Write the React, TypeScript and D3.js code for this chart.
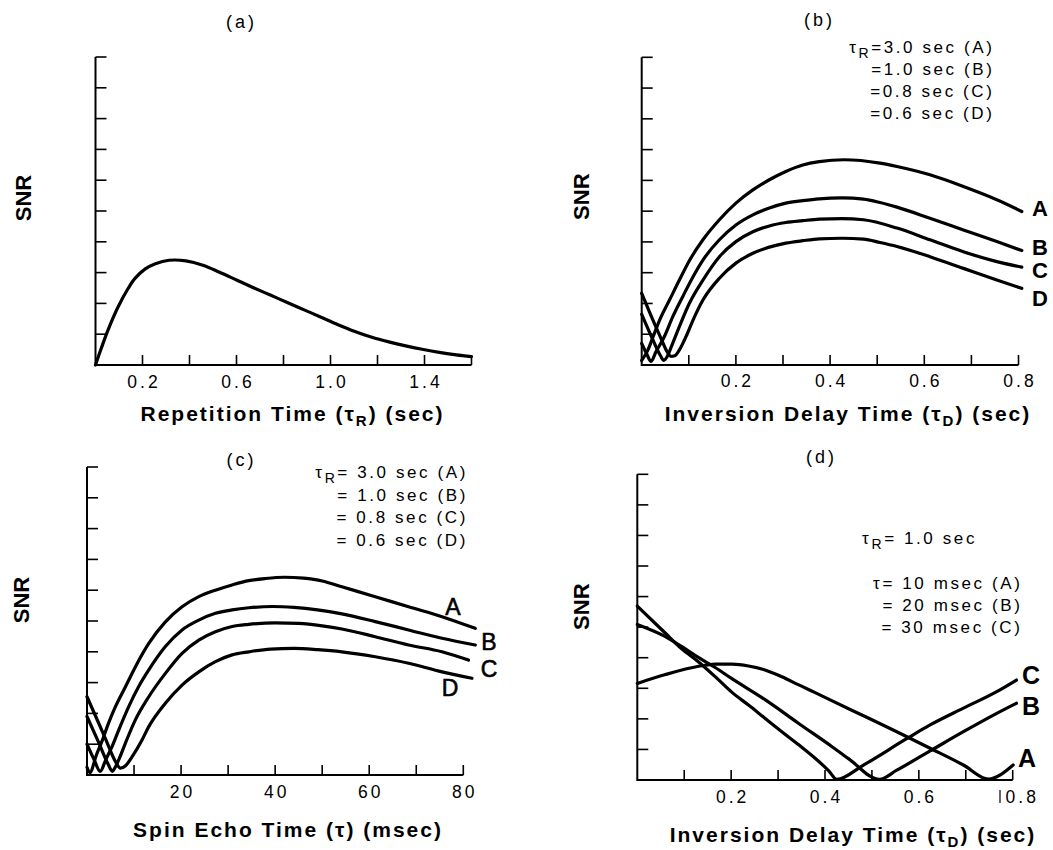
import React from 'react';
import * as d3 from 'd3';

const W = 1053;
const H = 850;
const FONT = "'Liberation Sans', Arial, Helvetica, sans-serif";

type Pt = [number, number];

// ---------- Panel (a): SNR vs repetition time ----------
const repTime = [0, 0.025, 0.054, 0.097, 0.14, 0.169, 0.212, 0.255, 0.313, 0.385, 0.457, 0.528, 0.6, 0.672, 0.744, 0.816, 0.888, 0.96, 1.032, 1.104, 1.176, 1.248, 1.32, 1.39, 1.463, 1.535, 1.6];
const snrRep = [0, 0.55, 1.15, 1.9, 2.5, 2.82, 3.12, 3.29, 3.4, 3.38, 3.24, 3.01, 2.76, 2.51, 2.27, 2.03, 1.79, 1.55, 1.31, 1.09, 0.9, 0.75, 0.62, 0.51, 0.41, 0.33, 0.27];
const ticksA = [0.2, 0.4, 0.6, 0.8, 1.0, 1.2, 1.4, 1.6];
const tickLabelsA = ['0.2', '0.6', '1.0', '1.4'];
const tickLabelValsA = [0.2, 0.6, 1.0, 1.4];

// ---------- Panel (b): SNR vs inversion delay, TR = 3.0/1.0/0.8/0.6 ----------
const invB_A: Pt[] = [[0, 0.15], [0.012, 0.45], [0.025, 0.95], [0.038, 1.46], [0.059, 2.11], [0.08, 2.76], [0.102, 3.41], [0.13, 4.07], [0.165, 4.72], [0.2, 5.26], [0.236, 5.69], [0.271, 6.02], [0.306, 6.29], [0.342, 6.5], [0.377, 6.61], [0.43, 6.67], [0.506, 6.56], [0.542, 6.45], [0.612, 6.18], [0.683, 5.8], [0.754, 5.37], [0.807, 4.99]];
const invB_B: Pt[] = [[0, 0.7], [0.01, 0.38], [0.02, 0.12], [0.03, 0.42], [0.048, 0.92], [0.066, 1.57], [0.087, 2.22], [0.109, 2.87], [0.13, 3.41], [0.165, 4.07], [0.2, 4.55], [0.236, 4.88], [0.271, 5.1], [0.306, 5.26], [0.342, 5.34], [0.377, 5.4], [0.425, 5.43], [0.471, 5.39], [0.506, 5.28], [0.542, 5.13], [0.612, 4.77], [0.683, 4.39], [0.754, 4.01], [0.807, 3.72]];
const invB_C: Pt[] = [[0, 1.65], [0.02, 0.95], [0.04, 0.3], [0.047, 0.15], [0.055, 0.3], [0.063, 0.6], [0.08, 1.25], [0.101, 2.0], [0.13, 2.76], [0.165, 3.52], [0.2, 4.01], [0.236, 4.33], [0.271, 4.52], [0.306, 4.63], [0.342, 4.69], [0.377, 4.74], [0.425, 4.76], [0.471, 4.72], [0.542, 4.45], [0.612, 4.07], [0.683, 3.68], [0.754, 3.36], [0.807, 3.18]];
const invB_D: Pt[] = [[0, 2.33], [0.02, 1.6], [0.04, 0.9], [0.055, 0.4], [0.062, 0.28], [0.07, 0.3], [0.08, 0.49], [0.094, 0.92], [0.109, 1.46], [0.13, 2.11], [0.165, 2.82], [0.2, 3.31], [0.236, 3.63], [0.271, 3.83], [0.306, 3.96], [0.342, 4.04], [0.377, 4.1], [0.425, 4.12], [0.471, 4.09], [0.506, 3.98], [0.542, 3.85], [0.612, 3.52], [0.683, 3.14], [0.754, 2.76], [0.807, 2.49]];
const ticksB = [0.1, 0.2, 0.3, 0.4, 0.5, 0.6, 0.7, 0.8];
const tickLabelValsB = [0.2, 0.4, 0.6, 0.8];
const tickLabelsB = ['0.2', '0.4', '0.6', '0.8'];
const legendB = ['=3.0 sec (A)', '=1.0 sec (B)', '=0.8 sec (C)', '=0.6 sec (D)'];

// ---------- Panel (c): SNR vs spin echo time ----------
const echoC_A: Pt[] = [[0, 0.25], [0.6, 0.08], [2, 0.65], [3.19, 1.1], [4.62, 1.7], [6.02, 2.21], [8.15, 2.86], [10.28, 3.51], [13.13, 4.27], [16.66, 4.97], [20.21, 5.46], [23.77, 5.79], [27.3, 6.0], [30.85, 6.17], [34.4, 6.31], [37.94, 6.38], [42, 6.42], [46, 6.39], [50, 6.3], [54.19, 6.11], [61.28, 5.79], [68.36, 5.46], [75.47, 5.14], [82.55, 4.76]];
const echoC_B: Pt[] = [[0, 1.0], [1.5, 0.5], [2.8, 0.12], [4, 0.5], [5.32, 0.92], [6.74, 1.46], [8.87, 2.22], [10.99, 2.87], [13.13, 3.41], [16.66, 4.17], [20.21, 4.71], [23.77, 5.03], [27.3, 5.25], [30.85, 5.36], [34.4, 5.43], [39.5, 5.47], [44, 5.44], [49, 5.36], [54.19, 5.23], [61.28, 4.98], [68.36, 4.71], [75.47, 4.44], [82.55, 4.22]];
const echoC_C: Pt[] = [[0, 1.9], [2.5, 1.05], [4.5, 0.35], [5.4, 0.12], [6.0, 0.25], [6.74, 0.49], [8.15, 1.03], [10.28, 1.79], [13.13, 2.54], [16.66, 3.3], [20.21, 3.95], [23.77, 4.38], [27.3, 4.65], [30.85, 4.82], [34.4, 4.89], [40, 4.94], [45, 4.92], [50, 4.84], [54.19, 4.74], [61.28, 4.49], [68.36, 4.22], [75.47, 4.0], [81.1, 3.73]];
const echoC_D: Pt[] = [[0, 2.54], [2, 1.85], [4, 1.15], [6, 0.45], [7.1, 0.22], [8.2, 0.3], [9.57, 0.59], [11.7, 1.14], [13.13, 1.57], [16.66, 2.33], [20.21, 2.92], [23.77, 3.35], [27.3, 3.68], [30.85, 3.9], [34.4, 4.0], [39, 4.09], [44, 4.11], [49, 4.07], [54.19, 4.0], [61.28, 3.84], [68.36, 3.63], [75.47, 3.35], [81.85, 3.14]];
const ticksC = [10, 20, 30, 40, 50, 60, 70, 80];
const tickLabelValsC = [20, 40, 60, 80];
const tickLabelsC = ['20', '40', '60', '80'];
const legendC = ['= 3.0 sec (A)', '= 1.0 sec (B)', '= 0.8 sec (C)', '= 0.6 sec (D)'];

// ---------- Panel (d): SNR vs inversion delay, TR = 1.0, tau = 10/20/30 ----------
const invD_A: Pt[] = [[0, 3.16], [0.06, 3.45], [0.131, 3.72], [0.166, 3.79], [0.202, 3.79], [0.237, 3.73], [0.272, 3.6], [0.308, 3.38], [0.344, 3.11], [0.379, 2.86], [0.411, 2.62], [0.482, 2.1], [0.553, 1.58], [0.624, 1.04], [0.695, 0.49], [0.748, 0.03], [0.801, 0.49]];
const invD_B: Pt[] = [[0, 5.09], [0.06, 4.69], [0.095, 4.36], [0.131, 4.0], [0.166, 3.68], [0.2, 3.33], [0.273, 2.62], [0.344, 1.85], [0.415, 1.09], [0.45, 0.7], [0.516, 0.02], [0.553, 0.32], [0.624, 0.95], [0.695, 1.58], [0.766, 2.18], [0.808, 2.51]];
const invD_C: Pt[] = [[0, 5.69], [0.06, 4.8], [0.094, 4.3], [0.13, 3.87], [0.166, 3.38], [0.2, 2.89], [0.237, 2.45], [0.272, 2.02], [0.308, 1.58], [0.344, 1.15], [0.379, 0.71], [0.408, 0.3], [0.425, 0.02], [0.482, 0.49], [0.574, 1.35], [0.624, 1.8], [0.695, 2.35], [0.766, 2.89], [0.808, 3.27]];
const ticksD = [0.1, 0.2, 0.3, 0.4, 0.5, 0.6, 0.7, 0.8];
const tickLabelValsD = [0.2, 0.4, 0.6, 0.8];
const tickLabelsD = ['0.2', '0.4', '0.6', '0.8'];
const legendD = ['= 20 msec (B)', '= 30 msec (C)'];

const yTickVals = [1, 2, 3, 4, 5, 6, 7, 8, 9, 10];

const line = (xs: d3.ScaleLinear<number, number>, ys: d3.ScaleLinear<number, number>) =>
  d3.line<Pt>().x(d => xs(d[0])).y(d => ys(d[1])).curve(d3.curveMonotoneX);

function Axes({ xs, ys, ticks, labelVals, labels, labelDy, lastShift = 0 }: any) {
  const [xa, xb] = xs.range();
  const [yb, yt] = ys.range();
  return (
    <g>
      <path d={`M${xa},${yt}V${yb}H${xb}`} stroke="#000" strokeWidth={2} fill="none" />
      {yTickVals.map(v => (
        <line key={'y' + v} x1={xa} x2={xa + 11} y1={ys(v)} y2={ys(v)} stroke="#000" strokeWidth={1.6} />
      ))}
      {ticks.map((v: number) => (
        <line key={'x' + v} x1={xs(v)} x2={xs(v)} y1={yb} y2={yb - 10} stroke="#000" strokeWidth={1.6} />
      ))}
      {labelVals.map((v: number, i: number) => (
        <text key={'l' + v} x={xs(v) + 1.5 + (i === labelVals.length - 1 ? lastShift : 0)} y={yb + labelDy}
          textAnchor="middle" fontSize={17.5} letterSpacing={3} fontFamily={FONT} fill="#000">{labels[i]}</text>
      ))}
    </g>
  );
}

function Snr({ x, y }: { x: number; y: number }) {
  return (
    <text transform={`translate(${x},${y}) rotate(-90)`} textAnchor="middle" dominantBaseline="central"
      fontSize={22} fontWeight="bold" fontFamily={FONT} fill="#000">SNR</text>
  );
}

function Title({ x, y, t }: { x: number; y: number; t: string }) {
  return <text x={x + 1.5} y={y} textAnchor="middle" fontSize={18} letterSpacing={3} fontFamily={FONT}>{t}</text>;
}

function XTitle({ x, y, pre, sub, post }: { x: number; y: number; pre: string; sub: string; post: string }) {
  return (
    <text x={x} y={y} textAnchor="middle" fontSize={21} fontWeight="bold" letterSpacing={2} fontFamily={FONT}>
      {pre}
      {sub ? <tspan dy={5} fontSize={15}>{sub}</tspan> : null}
      <tspan dy={sub ? -5 : 0}>{post}</tspan>
    </text>
  );
}

export default function App() {
  // Panel (a)
  const xa = d3.scaleLinear().domain([0, 1.6]).range([95.5, 471.5]);
  const ya = d3.scaleLinear().domain([0, 10]).range([365, 57]);
  const dataA: Pt[] = repTime.map((t, i) => [t, snrRep[i]]);

  // Panel (b)
  const xb = d3.scaleLinear().domain([0, 0.8]).range([641.7, 1018.5]);
  const yb = d3.scaleLinear().domain([0, 10]).range([365, 57.3]);
  const seriesB = [invB_A, invB_B, invB_C, invB_D];

  // Panel (c)
  const xc = d3.scaleLinear().domain([0, 80]).range([87, 463.3]);
  const yc = d3.scaleLinear().domain([0, 10]).range([775, 467]);
  const seriesC = [echoC_A, echoC_B, echoC_C, echoC_D];

  // Panel (d)
  const xd = d3.scaleLinear().domain([0, 0.8]).range([637.3, 1012.7]);
  const yd = d3.scaleLinear().domain([0, 10]).range([780, 474.3]);
  const seriesD = [invD_A, invD_B, invD_C];

  const curveStyle = { stroke: '#000', strokeWidth: 3.2, fill: 'none', strokeLinejoin: 'round' as const, strokeLinecap: 'round' as const };

  const lineA = d3.line<Pt>().x(d => xa(d[0])).y(d => ya(d[1])).curve(d3.curveCatmullRom.alpha(0.5));

  return (
    <svg width={W} height={H} viewBox={`0 0 ${W} ${H}`}
      style={{ position: 'absolute', left: 0, top: 0, background: '#fff' }}
      fontFamily={FONT}>
      <rect width={W} height={H} fill="#fff" />

      {/* (a) */}
      <Title x={240} y={28} t="(a)" />
      <Snr x={23} y={198} />
      <Axes xs={xa} ys={ya} ticks={ticksA} labelVals={tickLabelValsA} labels={tickLabelsA} labelDy={23} />
      <path d={lineA(dataA) || ''} {...curveStyle} />
      <XTitle x={292.5} y={421} pre="Repetition Time (τ" sub="R" post=") (sec)" />

      {/* (b) */}
      <Title x={818} y={26} t="(b)" />
      <Snr x={581.7} y={196.7} />
      <Axes xs={xb} ys={yb} ticks={ticksB} labelVals={tickLabelValsB} labels={tickLabelsB} labelDy={22} />
      {seriesB.map((s, i) => <path key={i} d={line(xb, yb)(s) || ''} {...curveStyle} />)}
      {legendB.map((t, i) => (
        <text key={i} x={994.5} y={52.7 + i * 22} textAnchor="end" fontSize={17} letterSpacing={2.6} fontFamily={FONT}>
          {i === 0 ? <>τ<tspan dy={5} fontSize={14}>R</tspan><tspan dy={-5}>{t}</tspan></> : t}
        </text>
      ))}
      {['A', 'B', 'C', 'D'].map((l, i) => (
        <text key={l} x={1040} y={[216, 255, 278, 306][i]} textAnchor="middle" fontSize={22} fontWeight="bold" fontFamily={FONT}>{l}</text>
      ))}
      <XTitle x={848} y={421} pre="Inversion Delay Time (τ" sub="D" post=") (sec)" />

      {/* (c) */}
      <Title x={240} y={466} t="(c)" />
      <Snr x={21} y={600} />
      <Axes xs={xc} ys={yc} ticks={ticksC} labelVals={tickLabelValsC} labels={tickLabelsC} labelDy={23} />
      {seriesC.map((s, i) => <path key={i} d={line(xc, yc)(s) || ''} {...curveStyle} />)}
      {legendC.map((t, i) => (
        <text key={i} x={468} y={478 + i * 22.7} textAnchor="end" fontSize={17} letterSpacing={2.6} fontFamily={FONT}>
          {i === 0 ? <>τ<tspan dy={5} fontSize={14}>R</tspan><tspan dy={-5}>{t}</tspan></> : t}
        </text>
      ))}
      {['A', 'B', 'C', 'D'].map((l, i) => (
        <text key={l} x={[453, 489, 489, 450][i]} y={[615, 650, 677, 696][i]} textAnchor="middle" fontSize={23}
          fontFamily={FONT} stroke="#000" strokeWidth={0.6}>{l}</text>
      ))}
      <XTitle x={288} y={837} pre="Spin Echo Time (τ) (msec)" sub="" post="" />

      {/* (d) */}
      <Title x={820} y={463} t="(d)" />
      <Snr x={581.7} y={606.7} />
      <Axes xs={xd} ys={yd} ticks={ticksD} labelVals={tickLabelValsD} labels={tickLabelsD} labelDy={23} lastShift={8} />
      <line x1={1000} x2={1000} y1={790} y2={803} stroke="#000" strokeWidth={1.2} />
      {seriesD.map((s, i) => <path key={i} d={line(xd, yd)(s) || ''} {...curveStyle} />)}
      <text x={977} y={544} textAnchor="end" fontSize={17} letterSpacing={2.6} fontFamily={FONT}>
        τ<tspan dy={5} fontSize={14}>R</tspan><tspan dy={-5}>= 1.0 sec</tspan>
      </text>
      <text x={1022.5} y={589.3} textAnchor="end" fontSize={17} letterSpacing={2.6} fontFamily={FONT}>τ= 10 msec (A)</text>
      {legendD.map((t, i) => (
        <text key={i} x={1022.5} y={611 + i * 22.3} textAnchor="end" fontSize={17} letterSpacing={2.6} fontFamily={FONT}>{t}</text>
      ))}
      {['C', 'B', 'A'].map((l, i) => (
        <text key={l} x={[1031, 1031, 1027][i]} y={[684, 715, 767][i]} textAnchor="middle" fontSize={25} fontWeight="bold" fontFamily={FONT}>{l}</text>
      ))}
      <XTitle x={853} y={842} pre="Inversion Delay Time (τ" sub="D" post=") (sec)" />
    </svg>
  );
}
